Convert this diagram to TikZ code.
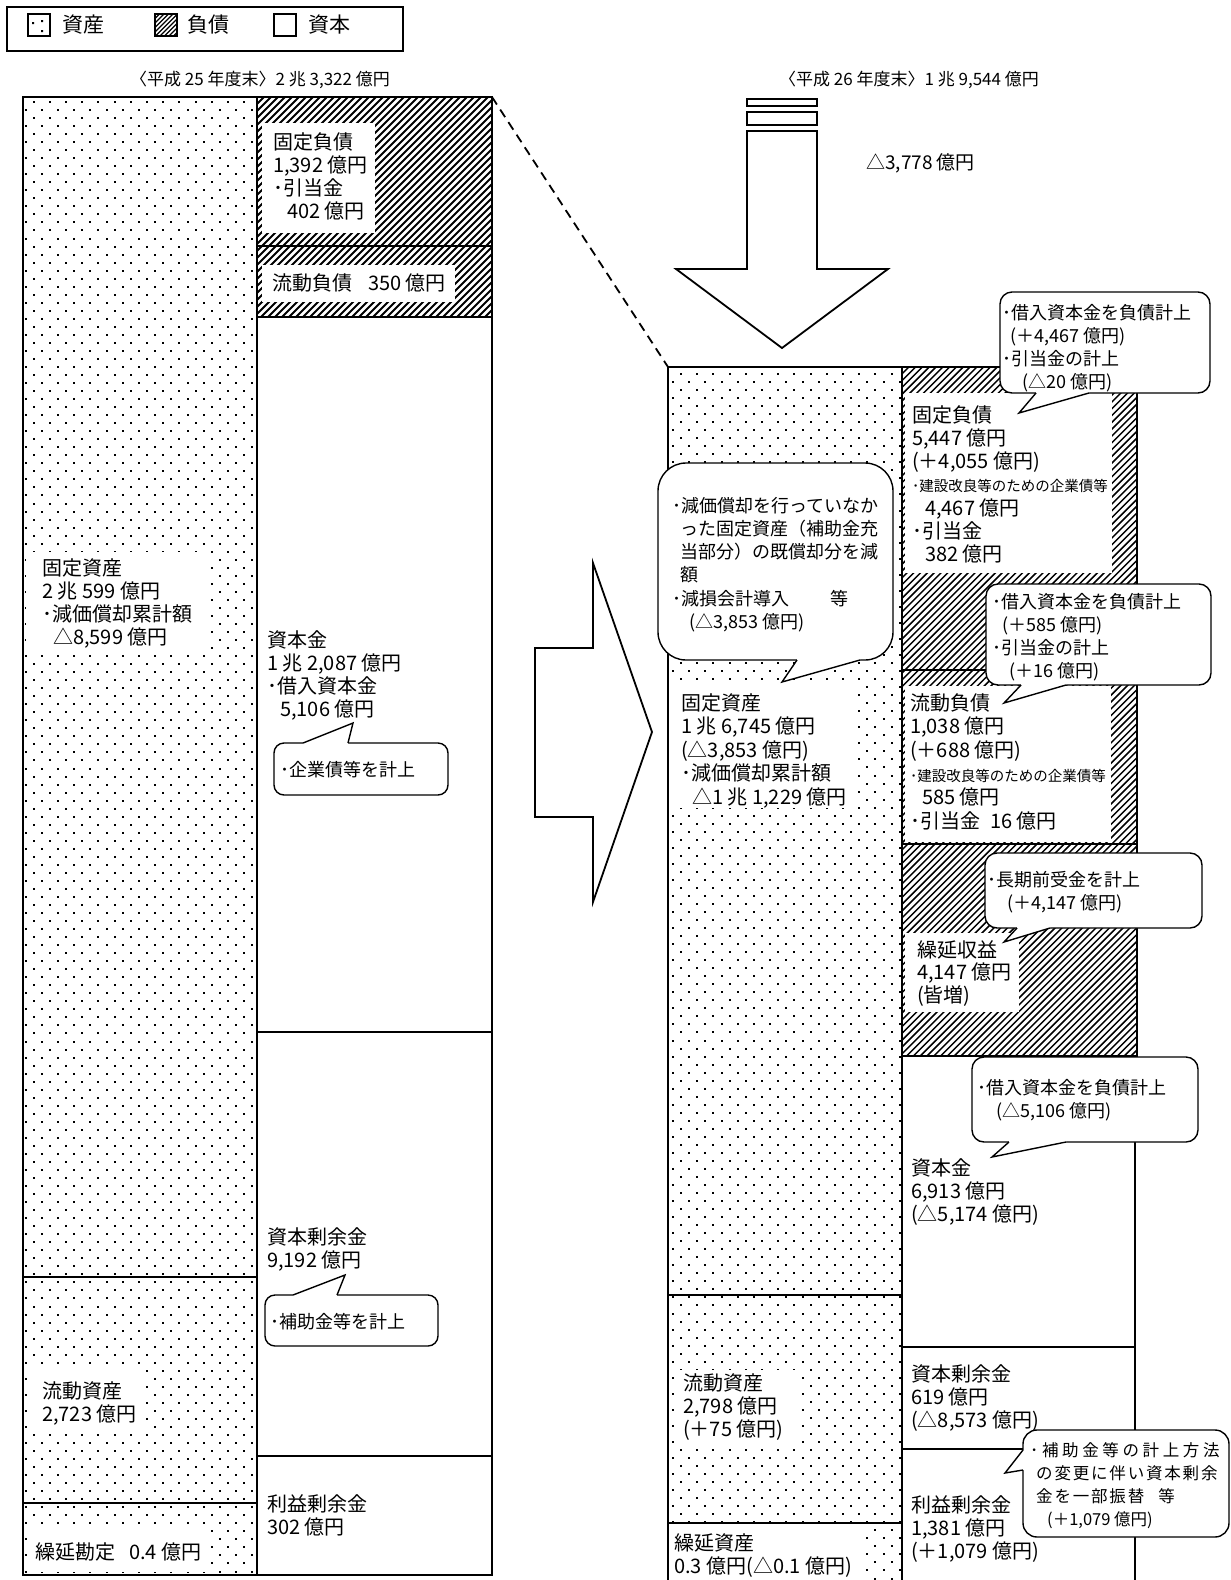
\documentclass[tikz,border=0pt]{standalone}
\usepackage{fontspec}
\setmainfont{Noto Sans CJK JP}
\newfontfamily\jpls[LetterSpace=11]{Noto Sans CJK JP}
\newfontfamily\jplsw[LetterSpace=22]{Noto Sans CJK JP}
\newcommand\sm{\fontsize{14.5}{23.3}\selectfont}
% staggered dot grid: x1 y1 x2 y2 x0 y0 ncols nrows
\newcommand\dotgrid[8]{%
  \begin{scope}
    \clip (#1,#2) rectangle (#3,#4);
    \foreach \r in {0,...,#8}{%
      \pgfmathsetmacro\xo{#5-mod(\r,2)*8.1}%
      \foreach \c in {0,...,#7}{\fill (\xo+\c*16.2-1,#6+\r*8.03+1) rectangle ++(2,2);}}
  \end{scope}}
% diagonal hatch: x1 y1 x2 y2 period width
\newcommand\hatchfill[6]{%
  \begin{scope}
    \clip (#1,#2) rectangle (#3,#4);
    \pgfmathsetmacro\hh{#4-#2}
    \pgfmathtruncatemacro\nn{(#3-#1+\hh)/#5+1}
    \foreach \k in {0,...,\nn}{\draw[line width=#6] ({#1-\hh+\k*#5},#4) -- ++(\hh,-\hh);}
  \end{scope}}
\newcommand\bcallout[9]{%
  \draw[callout, rounded corners=#5] (#1,#2) rectangle (#3,#4);
  \fill[white] (#6,#4-2.5) -- (#6,#4) -- (#8,#9) -- (#7,#4) -- (#7,#4-2.5) -- cycle;
  \draw[calloutline] (#6,#4) -- (#8,#9) -- (#7,#4);}
\newcommand\tcallout[9]{%
  \draw[callout, rounded corners=#5] (#1,#2) rectangle (#3,#4);
  \fill[white] (#6,#2+2.5) -- (#6,#2) -- (#8,#9) -- (#7,#2) -- (#7,#2+2.5) -- cycle;
  \draw[calloutline] (#6,#2) -- (#8,#9) -- (#7,#2);}
\newcommand\lcallout[9]{%
  \draw[callout, rounded corners=#5] (#1,#2) rectangle (#3,#4);
  \fill[white] (#1+2.5,#6) -- (#1,#6) -- (#8,#9) -- (#1,#7) -- (#1+2.5,#7) -- cycle;
  \draw[calloutline] (#1,#6) -- (#8,#9) -- (#1,#7);}
\begin{document}
\begin{tikzpicture}[x=1pt,y=-1pt,
  lbl/.style={anchor=north west,inner sep=0pt,align=left,font=\fontsize{20}{23.3}\selectfont},
  clbl/.style={anchor=north west,inner sep=0pt,align=left,font=\fontsize{18}{23.2}\selectfont},
  lblone/.style={anchor=west,inner sep=0pt,font=\fontsize{20}{23.3}\selectfont},
  cone/.style={anchor=west,inner sep=0pt,font=\fontsize{18}{22}\selectfont},
  ttl/.style={inner sep=0pt,font=\fontsize{17}{19}\selectfont},
  sect/.style={draw=black,line width=1.6pt},
  wbox/.style={fill=white},
  callout/.style={draw=black,fill=white,line width=1.4pt},
  calloutline/.style={draw=black,line width=1.4pt,line join=miter},
  arrowshape/.style={draw=black,fill=white,line width=1.8pt,line join=miter}]
\useasboundingbox (0,0) rectangle (1231,1580);
\fill[white] (0,0) rectangle (1231,1580);

% ---------------- legend
\draw[line width=1.4pt] (7,7) rectangle (403,51);
\fill (32,22) rectangle ++(2,2) (41,20) rectangle ++(2,2) (41,30) rectangle ++(2,2);
\draw[line width=1.4pt] (28,14) rectangle (50,36);
\hatchfill{155}{14}{177}{36}{4.5}{1.1pt}
\draw[line width=1.4pt] (155,14) rectangle (177,36);
\draw[line width=1.4pt] (274,14) rectangle (296,36);
\node[anchor=west,inner sep=0pt,font=\fontsize{21}{24}\selectfont] (lgA) at (62,25) {資産};
\node[anchor=west,inner sep=0pt,font=\fontsize{21}{24}\selectfont] (lgL) at (187,25) {負債};
\node[anchor=west,inner sep=0pt,font=\fontsize{21}{24}\selectfont] (lgC) at (308,25) {資本};

% ---------------- titles
\node[ttl] (tL) at (260,80) {〈平成 25 年度末〉2 兆 3,322 億円};
\node[ttl] (tR) at (909,80) {〈平成 26 年度末〉1 兆 9,544 億円};

% ---------------- left chart
\dotgrid{23}{97}{257}{1575}{33.6}{100}{14}{185}
\hatchfill{257}{97}{492}{317}{7}{1.8pt}
\fill[wbox] (262,123) rectangle (375,233);
\fill[wbox] (262,265) rectangle (455,302);
\fill[wbox] (26,552) rectangle (205,650);
\fill[wbox] (30,1370) rectangle (140,1428);
\fill[wbox] (30,1530) rectangle (210,1572);
\draw[sect] (257,317) rectangle (492,1032);
\draw[sect] (257,1032) rectangle (492,1456);
\draw[sect] (257,1456) rectangle (492,1575);
\draw[sect] (257,97) rectangle (492,246);
\draw[sect] (257,246) rectangle (492,317);
\draw[sect] (23,97) rectangle (257,1277);
\draw[sect] (23,1277) rectangle (257,1503);
\draw[sect] (23,1503) rectangle (257,1575);
\draw[line width=2pt] (23,97) rectangle (492,1575);
\coordinate (Ltr) at (492,97);

\node[lbl] (lfl) at (273,132) {固定負債\\1,392 億円\\･引当金\\\hspace*{14pt}402 億円};
\node[lblone] (lcl) at (272,283) {流動負債\hspace{16pt}350 億円};
\node[lbl] (lfa) at (42,558) {固定資産\\2 兆 599 億円\\･減価償却累計額\\\hspace*{11pt}△8,599 億円};
\node[lbl] (lcap) at (267,630) {資本金\\1 兆 2,087 億円\\･借入資本金\\\hspace*{13pt}5,106 億円};
\node[lbl] (lcs) at (267,1227) {資本剰余金\\9,192 億円};
\node[lbl] (lre) at (267,1494) {利益剰余金\\302 億円};
\node[lbl] (lca) at (42,1381) {流動資産\\2,723 億円};
\node[lblone] (lda) at (35,1552) {繰延勘定\hspace{14pt}0.4 億円};

% ---------------- right chart
\dotgrid{668}{367}{902}{1584}{681}{372}{14}{152}
\hatchfill{902}{367}{1137}{1056}{6.8}{1.5pt}
\fill[wbox] (905,393) rectangle (1112,573);
\fill[wbox] (905,686) rectangle (1111,842);
\fill[wbox] (905,933) rectangle (1019,1012);
\fill[wbox] (671,680) rectangle (852,808);
\fill[wbox] (676,1370) rectangle (796,1443);
\fill[wbox] (670,1527) rectangle (860,1584);
\draw[sect] (902,1056) rectangle (1135,1347);
\draw[sect] (902,1347) rectangle (1135,1449);
\draw[sect] (902,1449) rectangle (1135,1590);
\draw[sect] (902,367) rectangle (1137,670);
\draw[sect] (902,670) rectangle (1137,844);
\draw[sect] (902,844) rectangle (1137,1056);
\draw[sect] (668,367) rectangle (902,1295);
\draw[sect] (668,1295) rectangle (902,1523);
\draw[sect] (668,1523) rectangle (902,1590);
\coordinate (Rtl) at (668,367);

\node[lbl] (rfl) at (912,405) {固定負債\\5,447 億円\\(＋4,055 億円)\\{\sm ･建設改良等のための企業債等}\\\hspace*{13pt}4,467 億円\\･引当金\\\hspace*{13pt}382 億円};
\node[lbl,font=\fontsize{20}{23.7}\selectfont] (rcl) at (910,693) {流動負債\\1,038 億円\\(＋688 億円)\\{\sm ･建設改良等のための企業債等}\\\hspace*{12pt}585 億円\\･引当金\hspace{10pt}16 億円};
\node[lbl,font=\fontsize{20}{22.5}\selectfont] (rdr) at (917,940) {繰延収益\\4,147 億円\\(皆増)};
\node[lbl] (rcap) at (911,1158) {資本金\\6,913 億円\\(△5,174 億円)};
\node[lbl] (rcs) at (911,1364) {資本剰余金\\619 億円\\(△8,573 億円)};
\node[lbl] (rre) at (911,1495) {利益剰余金\\1,381 億円\\(＋1,079 億円)};
\node[lbl,font=\fontsize{20}{23.5}\selectfont] (rfa) at (681,693) {固定資産\\1 兆 6,745 億円\\(△3,853 億円)\\･減価償却累計額\\\hspace*{11pt}△1 兆 1,229 億円};
\node[lbl] (rca) at (683,1373) {流動資産\\2,798 億円\\(＋75 億円)};
\node[lbl] (rda) at (674,1533) {繰延資産\\0.3 億円(△0.1 億円)};

% ---------------- connectors and arrows
\draw[line width=1.8pt,dash pattern=on 9pt off 6pt] (Ltr) -- (Rtl);
\draw[arrowshape] (747,99) rectangle (817,106);
\draw[arrowshape] (747,112) rectangle (817,125);
\draw[arrowshape] (747,131) -- (817,131) -- (817,269) -- (888,269) -- (782,348) -- (676,269) -- (747,269) -- cycle;
\node[anchor=west,inner sep=0pt,font=\fontsize{19}{22}\selectfont] (chg) at (866,163) {△3,778 億円};
\draw[arrowshape] (535,648) -- (593,648) -- (593,563) -- (652,732) -- (593,902) -- (593,817) -- (535,817) -- cycle;

% ---------------- callouts
\tcallout{274}{743}{448}{795}{10}{303}{348}{353}{723}
\node[cone] (c7t) at (280,770) {･企業債等を計上};
\tcallout{265}{1295}{438}{1346}{10}{293}{337}{345}{1275}
\node[cone] (c8t) at (270,1322) {･補助金等を計上};

\bcallout{658}{463}{893}{660}{28}{797}{860}{782}{682}
\node[clbl] (c6t) at (672,497) {･減価償却を行っていなか\\\hspace*{8pt}った固定資産（補助金充\\\hspace*{8pt}当部分）の既償却分を減\\\hspace*{8pt}額\\･減損会計導入\hspace{41pt}等\\\hspace*{17pt}(△3,853 億円)};

\bcallout{1000}{292}{1210}{393}{12}{1036}{1089}{1019}{413}
\node[clbl] (c1t) at (1002,304) {･借入資本金を負債計上\\\hspace*{8pt}(＋4,467 億円)\\･引当金の計上\\\hspace*{20pt}(△20 億円)};
\bcallout{986}{584}{1211}{685}{12}{1021}{1066}{1004}{703}
\node[clbl] (c2t) at (992,593) {･借入資本金を負債計上\\\hspace*{10pt}(＋585 億円)\\･引当金の計上\\\hspace*{17pt}(＋16 億円)};
\bcallout{985}{853}{1202}{928}{12}{1017}{1050}{1004}{942}
\node[clbl] (c3t) at (987,871) {･長期前受金を計上\\\hspace*{20pt}(＋4,147 億円)};
\bcallout{972}{1057}{1198}{1142}{12}{1009}{1066}{992}{1157}
\node[clbl] (c4t) at (977,1079) {･借入資本金を負債計上\\\hspace*{19pt}(△5,106 億円)};
\lcallout{1023}{1430}{1229}{1537}{14}{1450}{1470}{1005}{1473}
\node[clbl,font=\jpls\fontsize{16.5}{23.2}\selectfont] (c5t) at (1030,1442) {{\jplsw ･補助金等の計上方法}\\\hspace*{6pt}の変更に伴い資本剰余\\\hspace*{6pt}金を一部振替\hspace{14pt}等\\{\rmfamily\hspace*{17pt}(＋1,079 億円)}};
\end{tikzpicture}
\end{document}
